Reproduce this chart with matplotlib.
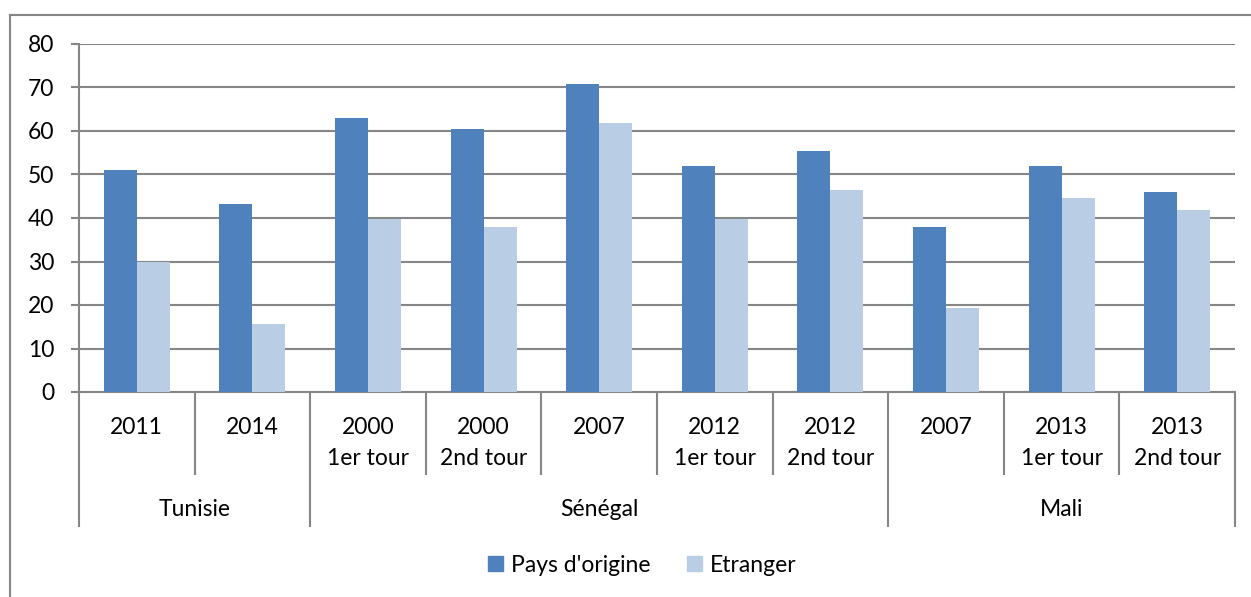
import numpy as np
import matplotlib.pyplot as plt
from matplotlib.lines import Line2D
from matplotlib.patches import Patch

plt.rcParams["font.family"] = ["Lato", "DejaVu Sans"]

years = ["2011", "2014", "2000\n1er tour", "2000\n2nd tour", "2007",
         "2012\n1er tour", "2012\n2nd tour", "2007", "2013\n1er tour", "2013\n2nd tour"]
countries = ["Tunisie", "Sénégal", "Mali"]
group_sizes = [2, 5, 3]
origine = [51.0, 43.3, 63.0, 60.5, 70.8, 52.0, 55.4, 37.9, 52.0, 46.0]
etranger = [29.8, 15.6, 39.8, 37.9, 61.8, 39.8, 46.4, 19.2, 44.6, 41.8]

dark = "#4F81BD"
light = "#B9CDE5"
grey = "#868686"
fs = 16.5

fig = plt.figure(figsize=(12.51, 5.97), dpi=100)
ax = fig.add_axes([79 / 1251, 205 / 597, 1156 / 1251, 348 / 597])

x = np.arange(len(years)) + 0.5
w = 0.285
ax.bar(x - w / 2, origine, w, color=dark, zorder=3)
ax.bar(x + w / 2, etranger, w, color=light, zorder=3)

ax.set_xlim(0, len(years))
ax.set_ylim(0, 80)
ax.set_yticks(range(0, 81, 10))
ax.grid(axis="y", color=grey, linewidth=1.5, zorder=0)
ax.tick_params(axis="y", length=6, width=1.5, color=grey, pad=12, labelsize=fs)

for s in ["top", "right"]:
    ax.spines[s].set_visible(False)
for s in ["left", "bottom"]:
    ax.spines[s].set_color(grey)
    ax.spines[s].set_linewidth(1.5)

# category boundaries: long ticks between countries, shorter between years
bounds = np.cumsum([0] + group_sizes)
ax.set_xticks(bounds)
ax.set_xticks([b for b in range(len(years) + 1) if b not in bounds], minor=True)
ax.set_xticklabels([])
ax.tick_params(axis="x", which="major", length=97, width=1.5, color=grey)
ax.tick_params(axis="x", which="minor", length=60, width=1.5, color=grey)

trans = ax.get_xaxis_transform()
for xi, lab in zip(x, years):
    ax.text(xi, -25 / 348, lab, transform=trans, ha="center", va="top",
            fontsize=fs, linespacing=1.6)
for i, c in enumerate(countries):
    mid = (bounds[i] + bounds[i + 1]) / 2
    ax.text(mid, -117 / 348, c, transform=trans, ha="center", va="center", fontsize=fs)

handles = [Patch(color=dark), Patch(color=light)]
fig.legend(handles, ["Pays d'origine", "Etranger"], loc="center",
           bbox_to_anchor=(642 / 1251, 1 - 565 / 597), ncol=2, frameon=False,
           fontsize=fs, handlelength=0.65, handleheight=0.65, handletextpad=0.35,
           columnspacing=1.6)

# outer chart frame
fig.add_artist(Line2D([10 / 1251, 1], [1 - 15 / 597] * 2, color=grey, linewidth=1.5,
                      transform=fig.transFigure))
fig.add_artist(Line2D([10 / 1251] * 2, [0, 1 - 15 / 597], color=grey, linewidth=1.5,
                      transform=fig.transFigure))

fig.savefig("out.png", dpi=100)
